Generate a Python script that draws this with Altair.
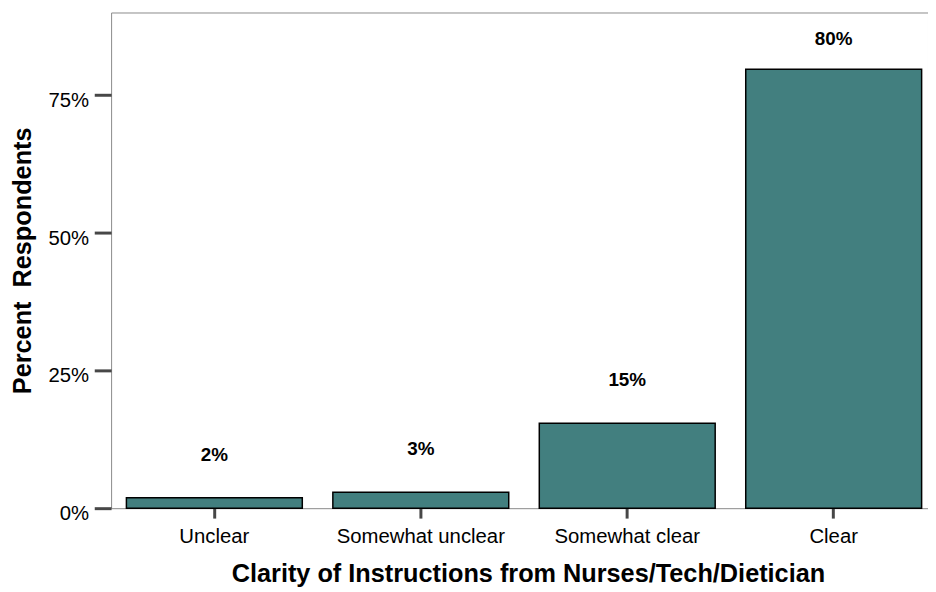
import altair as alt
import pandas as pd

categories = ["Unclear", "Somewhat unclear", "Somewhat clear", "Clear"]
shares = [0.019, 0.029, 0.154, 0.797]
y_ticks = [0, 0.25, 0.5, 0.75]

df = pd.DataFrame({"clarity": categories, "share": shares})

FONT = "Liberation Sans"
TEAL = "#427f7f"
TICK = "#474747"

x_enc = alt.X(
    "clarity:N",
    sort=categories,
    scale=alt.Scale(paddingInner=0.148, paddingOuter=0.0525, align=0.706),
    axis=alt.Axis(
        title="Clarity of Instructions from Nurses/Tech/Dietician",
        labelAngle=0,
        labelFont=FONT,
        labelFontSize=20.5,
        labelColor="black",
        labelBaseline="alphabetic",
        labelPadding=25,
        tickSize=10,
        tickWidth=3,
        tickColor=TICK,
        domain=False,
        titleFont=FONT,
        titleFontSize=25.5,
        titleFontWeight="bold",
        titleColor="black",
        titleX=420.5,
        titleY=74.3,
        titleBaseline="alphabetic",
        titleAlign="center",
    ),
)

y_scale = alt.Scale(domain=[0, 0.9], nice=False, zero=True)
y_title = "Percent\u00a0 Respondents"

y_axis = alt.Axis(
    values=y_ticks,
    format=".0%",
    grid=False,
    domain=False,
    tickSize=17,
    tickWidth=3,
    tickColor=TICK,
    labelFont=FONT,
    labelFontSize=20.5,
    labelColor="black",
    labelPadding=5.7,
    labelBaseline="alphabetic",
    labelOffset=11.5,
    titleFont=FONT,
    titleFontSize=25.5,
    titleFontWeight="bold",
    titleColor="black",
    titleX=-81,
    titleY=250,
    titleAngle=270,
    titleBaseline="alphabetic",
    titleAlign="center",
)

bars = alt.Chart(df).mark_bar(fill=TEAL, stroke="black", strokeWidth=1.5).encode(
    x=x_enc,
    y=alt.Y("share:Q", scale=y_scale, title=y_title, axis=y_axis),
)

labels = (
    alt.Chart(df)
    .transform_calculate(label_y="min(datum.share + 0.067, 0.841)")
    .mark_text(font=FONT, fontSize=19, fontWeight="bold", baseline="alphabetic", color="black")
    .encode(
        x=alt.X("clarity:N", sort=categories),
        y=alt.Y("label_y:Q", scale=y_scale, title=y_title, axis=y_axis),
        text=alt.Text("share:Q", format=".0%"),
    )
)

chart = (
    alt.layer(bars, labels)
    .properties(
        width=824,
        height=500,
        autosize="none",
        padding={"left": 104, "top": 2, "right": 0, "bottom": 80},
        background="white",
    )
    .configure_view(stroke="#8a8a8a", strokeWidth=1)
)

chart.save("out.html", embed_options={"renderer": "svg", "actions": False})
